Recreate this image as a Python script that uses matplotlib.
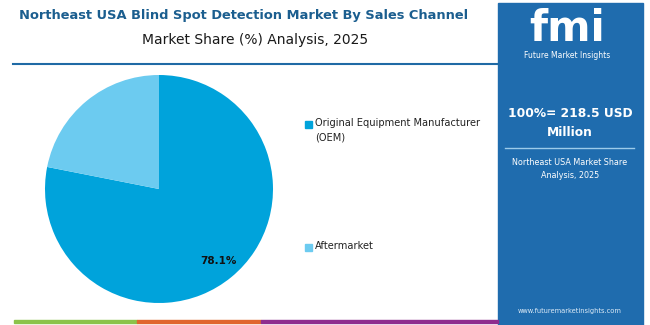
import numpy as np
import matplotlib.pyplot as plt
from matplotlib.patches import Rectangle
from matplotlib.lines import Line2D

# data
channels = ['Original Equipment Manufacturer\n(OEM)', 'Aftermarket']
shares = [78.1, 21.9]
colors = ['#00A3DB', '#6CCBF0']
total_label = '100%= 218.5 USD\nMillion'

W, H = 650, 325
fig = plt.figure(figsize=(6.5, 3.25), dpi=100)
fig.patch.set_facecolor('white')


def fx(px):
    return px / W


def fy(py):
    return 1 - py / H


# titles
fig.text(fx(244), fy(16), 'Northeast USA Blind Spot Detection Market By Sales Channel',
         ha='center', va='center', fontsize=9.4, fontweight='bold', color='#1B5E8F')
fig.text(fx(255), fy(40), 'Market Share (%) Analysis, 2025',
         ha='center', va='center', fontsize=10, color='#1a1a1a')
fig.add_artist(Line2D([fx(13), fx(498)], [fy(64), fy(64)], color='#1F6AA5', lw=1.5))

# pie
ax = fig.add_axes([fx(45), fy(303), fx(228), 228 / H])
wedges, _ = ax.pie(shares, colors=colors, startangle=90, counterclock=False,
                   wedgeprops=dict(linewidth=0))
ax.set_xlim(-1, 1)
ax.set_ylim(-1, 1)
ax.set_aspect('equal')
ax.axis('off')
# label for the largest slice only
w = wedges[0]
ang = np.deg2rad((w.theta1 + w.theta2) / 2)
ax.text(0.82 * np.cos(ang), 0.82 * np.sin(ang), f'{shares[0]}%', ha='center', va='center',
        fontsize=7.5, fontweight='bold', color='#111111')

# legend
leg_y = [124, 247]
for i, name in enumerate(channels):
    fig.add_artist(Rectangle((fx(305), fy(leg_y[i] + 4)), fx(7), 7 / H, color=colors[i]))
    fig.text(fx(315), fy(leg_y[i] - 6), name, ha='left', va='top', fontsize=7.1,
             color='#222222', linespacing=1.5)

# right panel
fig.add_artist(Rectangle((fx(498), fy(325)), fx(145), 322 / H, color='#1F6CAE', zorder=0))
fig.text(fx(567), fy(29), 'fmi', ha='center', va='center', fontsize=30,
         fontweight='bold', color='white')
for yy in range(12, 46, 4):
    fig.add_artist(Line2D([fx(520), fx(615)], [fy(yy), fy(yy)], color='#1F6CAE', lw=0.8))
fig.text(fx(567), fy(55), 'Future Market Insights', ha='center', va='center',
         fontsize=5.5, color='white')
fig.text(fx(570), fy(123), total_label, ha='center', va='center', fontsize=8.8,
         fontweight='bold', color='white', linespacing=1.6)
fig.add_artist(Line2D([fx(505), fx(634)], [fy(148), fy(148)], color='#9CCBEA', lw=1))
fig.text(fx(570), fy(169), 'Northeast USA Market Share\nAnalysis, 2025', ha='center',
         va='center', fontsize=5.8, color='white', linespacing=1.5)
fig.text(fx(570), fy(311), 'www.futuremarketinsights.com', ha='center', va='center',
         fontsize=4.8, color='#DDEBF7')

# bottom stripe
for x0, x1, c in [(14, 137, '#8BC34A'), (137, 261, '#E0662D'), (261, 498, '#8E2C8E')]:
    fig.add_artist(Rectangle((fx(x0), fy(323)), fx(x1 - x0), 3 / H, color=c))

fig.savefig('out.png', dpi=100)
